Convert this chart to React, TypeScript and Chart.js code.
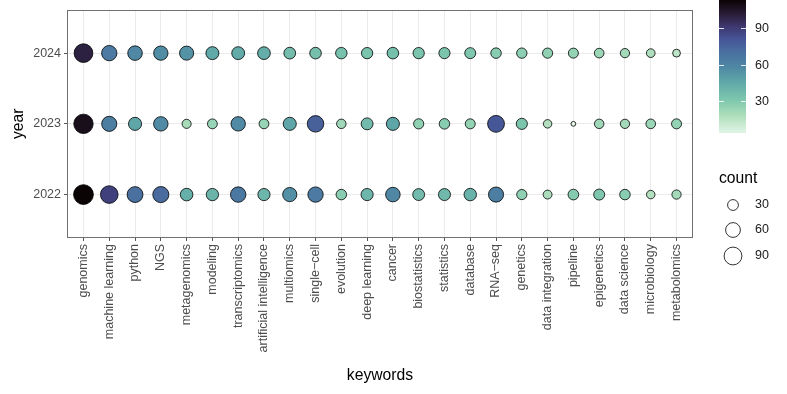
import React, { useEffect, useRef } from 'react';
import { Chart, registerables } from 'chart.js';
Chart.register(...registerables);

const keywords = ['genomics', 'machine learning', 'python', 'NGS', 'metagenomics', 'modeling', 'transcriptomics', 'artificial intelligence', 'multiomics', 'single\u2212cell', 'evolution', 'deep learning', 'cancer', 'biostatistics', 'statistics', 'database', 'RNA\u2212seq', 'genetics', 'data integration', 'pipeline', 'epigenetics', 'data science', 'microbiology', 'metabolomics'];
const years = [2022, 2023, 2024];
const count2022 = [113, 88, 70, 72, 42, 40, 66, 39, 55, 65, 28, 39, 58, 37, 38, 41, 63, 26, 19, 29, 31, 28, 17, 21];
const count2023 = [108, 63, 46, 57, 20, 24, 57, 24, 46, 76, 22, 37, 46, 26, 28, 25, 80, 32, 17, 4, 22, 21, 23, 25];
const count2024 = [100, 65, 58, 56, 54, 45, 44, 43, 36, 35, 34, 33, 35, 33, 32, 31, 28, 27, 26, 25, 23, 21, 18, 14];
const colorTicks = [30, 60, 90];
const sizeTicks = [30, 60, 90];

const countsByYear = [count2022, count2023, count2024];
const allCounts = countsByYear.flat();
const vMin = Math.min(...allCounts);
const vMax = Math.max(...allCounts);

// mako-like palette, position 0 = dark, 1 = light
const makoStops: [number, number[]][] = [
  [0.0, [11, 4, 5]],
  [0.1, [40, 27, 52]],
  [0.2, [62, 56, 112]],
  [0.3, [70, 86, 152]],
  [0.4, [74, 114, 160]],
  [0.5, [78, 134, 164]],
  [0.62, [96, 168, 168]],
  [0.76, [128, 201, 174]],
  [0.88, [178, 224, 190]],
  [1.0, [226, 245, 230]],
];
function mako(s: number): string {
  s = Math.max(0, Math.min(1, s));
  for (let i = 0; i < makoStops.length - 1; i++) {
    const [a, ca] = makoStops[i];
    const [b, cb] = makoStops[i + 1];
    if (s <= b) {
      const f = (s - a) / (b - a);
      const c = ca.map((x, k) => Math.round(x + (cb[k] - x) * f));
      return `rgb(${c[0]},${c[1]},${c[2]})`;
    }
  }
  return 'rgb(226,245,230)';
}
function colorFor(v: number): string {
  return mako(1 - (v - vMin) / (vMax - vMin));
}
function radiusFor(v: number): number {
  const rMin = 2.8, rMax = 10.3;
  return rMin + (rMax - rMin) * (Math.sqrt(v) - Math.sqrt(vMin)) / (Math.sqrt(vMax) - Math.sqrt(vMin));
}

const FONT = "'Liberation Sans', Arial, Helvetica, sans-serif";

const panelPlugin = {
  id: 'panelAndLegends',
  afterDatasetsDraw(chart: any) {
    const { ctx, chartArea } = chart;
    ctx.save();
    ctx.strokeStyle = '#707070';
    ctx.lineWidth = 1;
    ctx.strokeRect(Math.round(chartArea.left) - 0.5, Math.round(chartArea.top) - 0.5,
      Math.round(chartArea.right - chartArea.left) + 1, Math.round(chartArea.bottom - chartArea.top) + 1);
    ctx.restore();
  },
  afterDraw(chart: any) {
    const { ctx } = chart;
    ctx.save();
    // colour bar
    const bx = 719, bw = 27, bTop = 0, bBottom = 133;
    const yOf = (v: number) => bBottom - (v - vMin) / (vMax - vMin) * (bBottom - bTop);
    for (let y = bTop; y < bBottom; y++) {
      const v = vMin + (bBottom - (y + 0.5)) / (bBottom - bTop) * (vMax - vMin);
      ctx.fillStyle = colorFor(v);
      ctx.fillRect(bx, y, bw, 1);
    }
    ctx.strokeStyle = 'rgba(255,255,255,0.85)';
    ctx.lineWidth = 1;
    ctx.font = `12.5px ${FONT}`;
    ctx.fillStyle = '#1a1a1a';
    ctx.textAlign = 'left';
    ctx.textBaseline = 'middle';
    colorTicks.forEach((t) => {
      const y = Math.round(yOf(t)) + 0.5;
      ctx.beginPath();
      ctx.moveTo(bx, y); ctx.lineTo(bx + 5, y);
      ctx.moveTo(bx + bw - 5, y); ctx.lineTo(bx + bw, y);
      ctx.stroke();
      ctx.fillText(String(t), 755, y);
    });
    // size legend
    ctx.font = `15.7px ${FONT}`;
    ctx.fillStyle = '#000';
    ctx.textBaseline = 'alphabetic';
    ctx.fillText('count', 719, 183);
    const ys = [205, 230, 256];
    sizeTicks.forEach((t, i) => {
      ctx.beginPath();
      ctx.arc(733, ys[i], radiusFor(t) - 0.4, 0, Math.PI * 2);
      ctx.fillStyle = '#fff';
      ctx.fill();
      ctx.strokeStyle = '#000';
      ctx.lineWidth = 0.8;
      ctx.stroke();
      ctx.font = `12.5px ${FONT}`;
      ctx.fillStyle = '#1a1a1a';
      ctx.textBaseline = 'middle';
      ctx.fillText(String(t), 755, ys[i]);
    });
    ctx.restore();
  },
};

export default function App() {
  const ref = useRef<HTMLCanvasElement>(null);
  useEffect(() => {
    document.body.style.margin = '0';
    const points: any[] = [];
    years.forEach((yr, yi) => {
      countsByYear[yi].forEach((v, i) => points.push({ x: i, y: yr, v }));
    });
    const chart = new Chart(ref.current!, {
      type: 'scatter',
      data: {
        datasets: [{
          data: points,
          pointRadius: (c: any) => radiusFor(c.raw.v) - 0.4,
          pointHoverRadius: (c: any) => radiusFor(c.raw.v) - 0.4,
          pointBackgroundColor: (c: any) => colorFor(c.raw.v),
          pointBorderColor: '#000',
          pointBorderWidth: 0.8,
        }],
      },
      options: {
        animation: false,
        responsive: false,
        layout: { padding: { top: 8, right: 95, left: 0, bottom: 0 } },
        plugins: { legend: { display: false }, tooltip: { enabled: false } },
        scales: {
          x: {
            type: 'linear',
            min: -0.6,
            max: 23.6,
            afterBuildTicks: (s: any) => { s.ticks = keywords.map((_, i) => ({ value: i })); },
            afterFit: (s: any) => { s.height = 157; },
            ticks: {
              autoSkip: false,
              maxRotation: 90,
              minRotation: 90,
              padding: 3,
              color: '#4d4d4d',
              font: { family: FONT, size: 12.5 },
              callback: (v: any) => keywords[v as number],
            },
            grid: { color: '#ebebeb', lineWidth: 1, tickColor: '#555', tickLength: 4 },
            border: { display: false },
            title: { display: true, text: 'keywords', color: '#000', font: { family: FONT, size: 15.7 }, padding: { top: 0, bottom: 9 } },
          },
          y: {
            type: 'linear',
            min: 2021.4,
            max: 2024.6,
            afterBuildTicks: (s: any) => { s.ticks = years.map((y) => ({ value: y })); },
            afterFit: (s: any) => { s.width = 68; },
            ticks: {
              padding: 3,
              color: '#4d4d4d',
              font: { family: FONT, size: 12.5 },
              callback: (v: any) => String(v),
            },
            grid: { color: '#ebebeb', lineWidth: 1, tickColor: '#555', tickLength: 4 },
            border: { display: false },
            title: { display: true, text: 'year', color: '#000', font: { family: FONT, size: 15.7 }, padding: { top: 9, bottom: 0 } },
          },
        },
      },
      plugins: [panelPlugin],
    } as any);
    return () => chart.destroy();
  }, []);
  return (
    <div style={{ width: 787, height: 394, background: '#fff' }}>
      <canvas ref={ref} width={787} height={394} style={{ display: 'block' }} />
    </div>
  );
}
